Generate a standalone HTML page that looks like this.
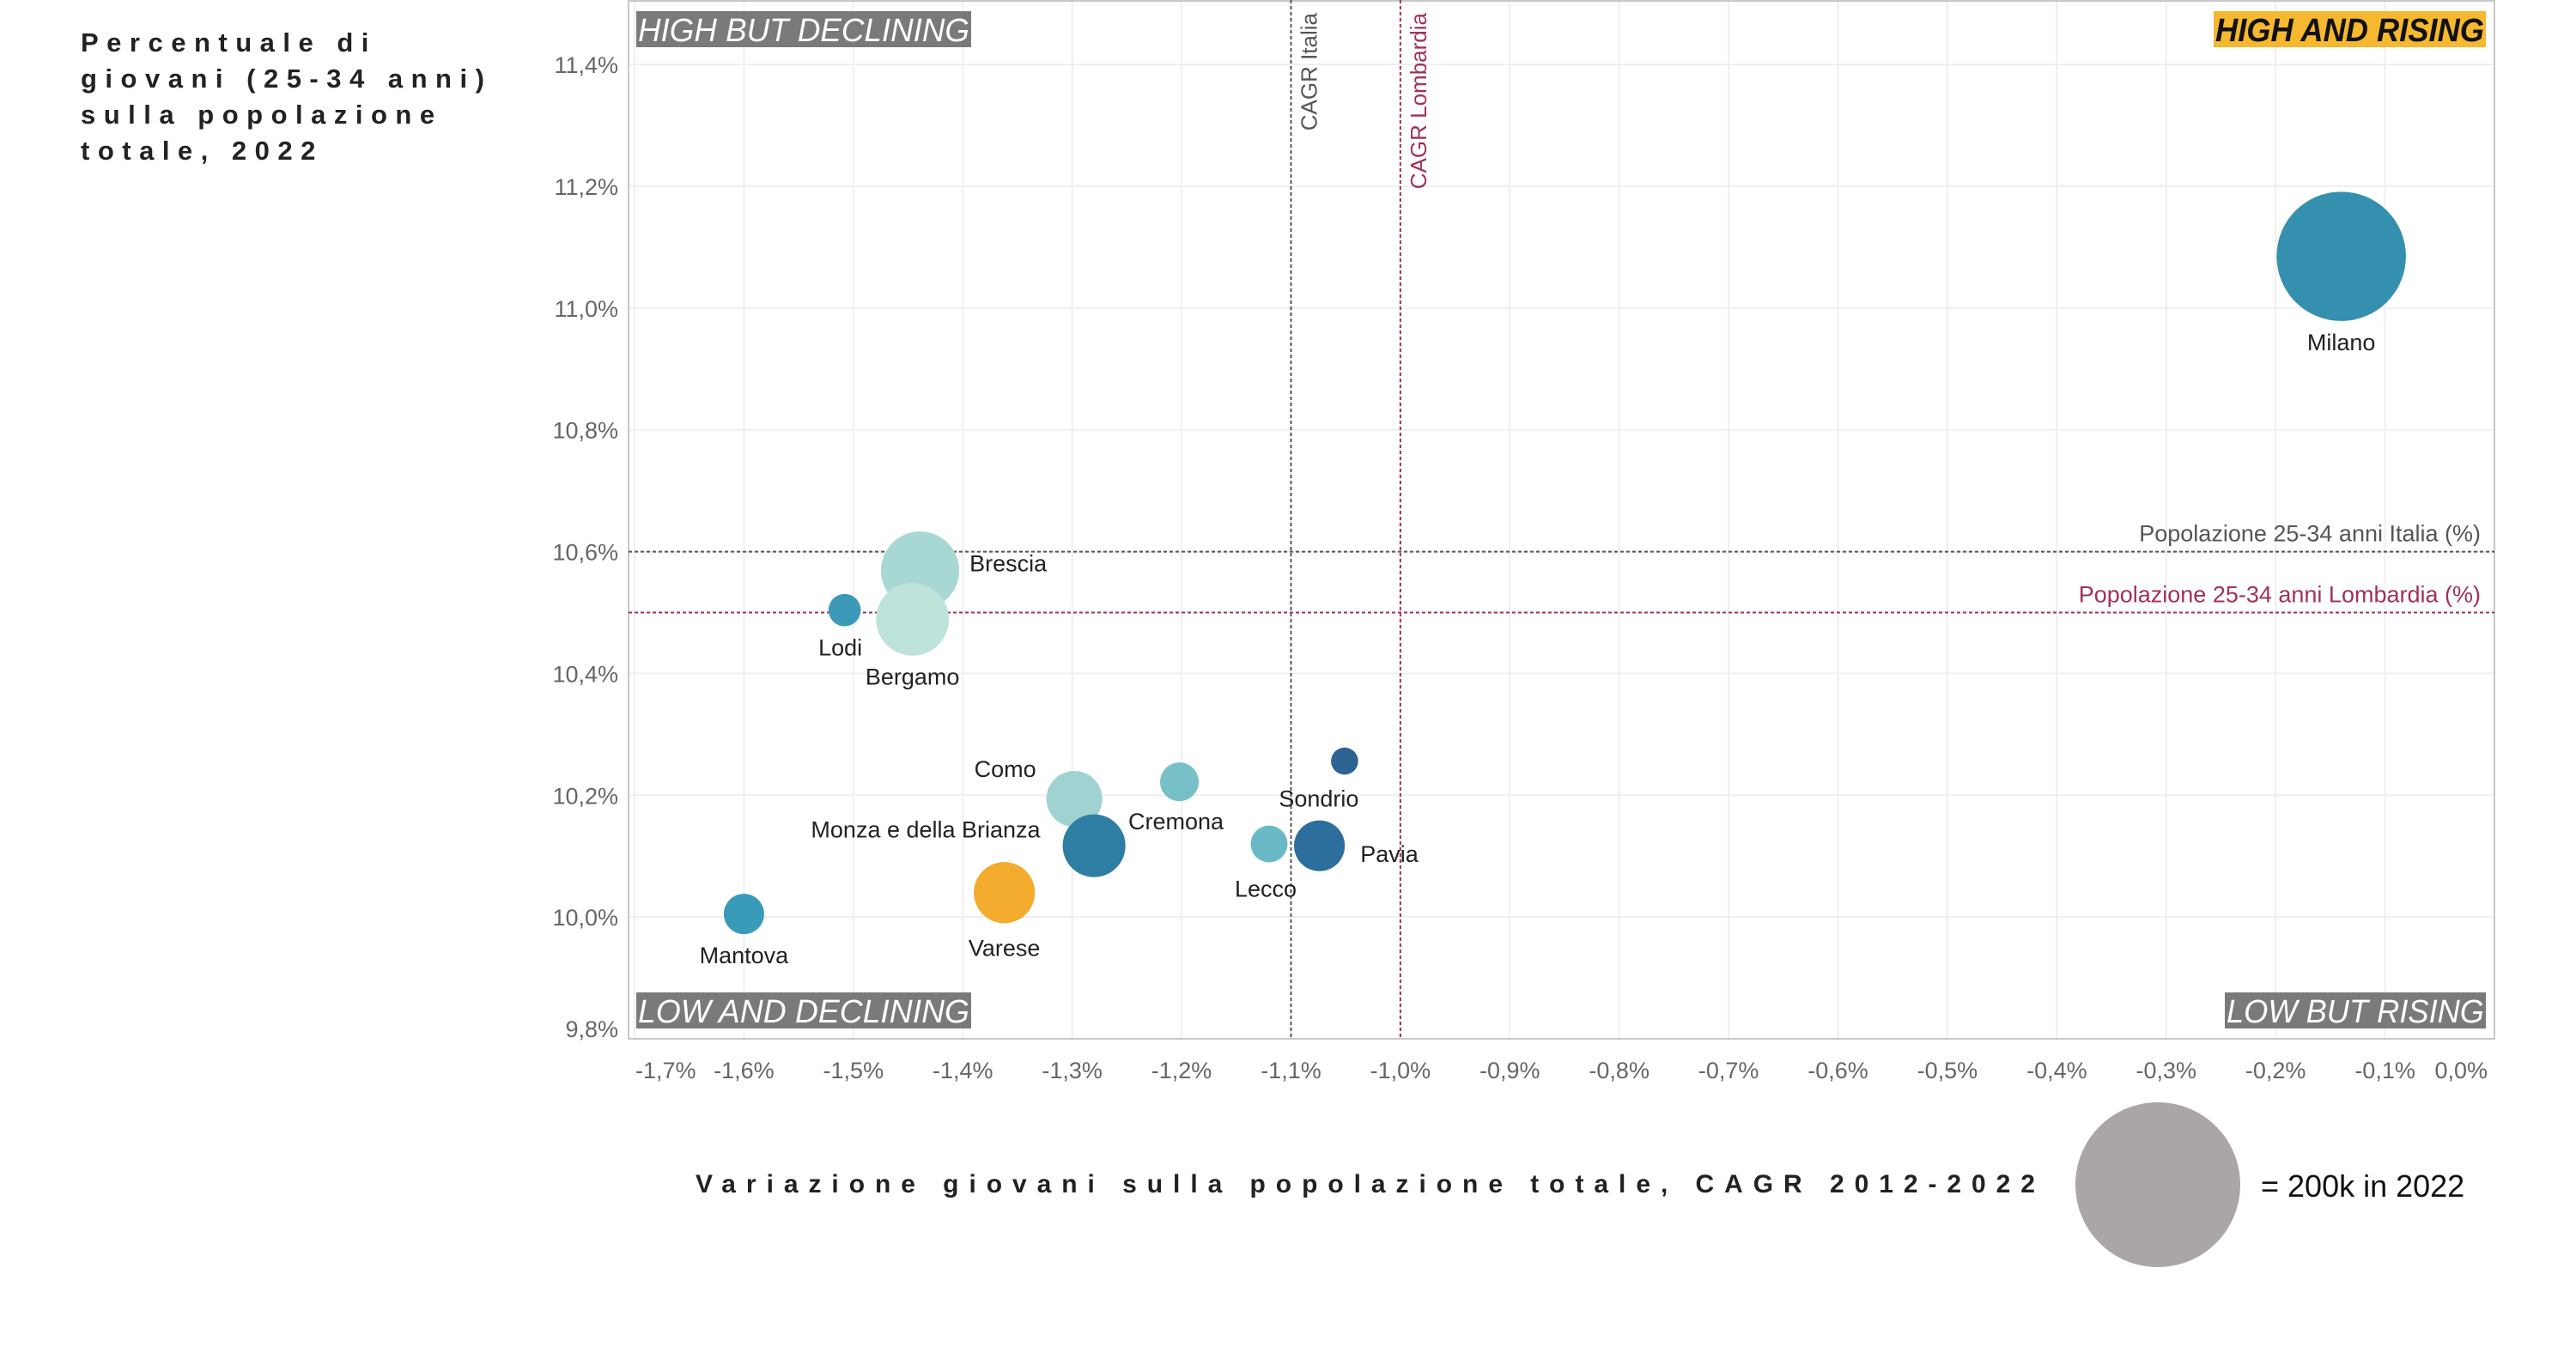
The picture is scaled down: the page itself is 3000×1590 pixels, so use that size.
<!DOCTYPE html>
<html><head><meta charset="utf-8"><style>
html,body{margin:0;padding:0;background:#fff;width:3000px;height:1590px;overflow:hidden}
svg{display:block}
</style></head><body>
<svg id="chart" width="3000" height="1590" xmlns="http://www.w3.org/2000/svg" font-family="Liberation Sans, sans-serif"></svg>
<script>
const provinces=["Milano","Brescia","Bergamo","Lodi","Como","Cremona","Monza e della Brianza","Varese","Mantova","Lecco","Pavia","Sondrio"];
const cagr=[-0.140,-1.439,-1.446,-1.508,-1.298,-1.202,-1.280,-1.362,-1.600,-1.120,-1.074,-1.051];
const share=[11.085,10.569,10.489,10.504,10.194,10.222,10.117,10.040,10.005,10.120,10.117,10.256];
const youngK=[123,45,39,7.7,23,11,29,27.5,12,10,19,5.4];
const colors=["#358fae","#a8d8d3","#bde3da","#3c9ab8","#a0d2d2","#78c0c8","#2e7ea3","#f3ac2e","#3a9bb9","#6bb9c6","#2d6f9c","#2d6393"];
const xTicks=[-1.7,-1.6,-1.5,-1.4,-1.3,-1.2,-1.1,-1.0,-0.9,-0.8,-0.7,-0.6,-0.5,-0.4,-0.3,-0.2,-0.1,0.0];
const yTicks=[9.8,10.0,10.2,10.4,10.6,10.8,11.0,11.2,11.4];
const refX=[-1.1,-1.0];
const refY=[10.6,10.5];
const legendK=200;

const L=732,R=2905,T=0,B=1210;
const x0=-1.7055,x1=0.0,y0=9.8,y1=11.506;
const X=v=>L+(v-x0)/(x1-x0)*(R-L);
const Y=v=>B-(v-y0)/(y1-y0)*(B-T);
const RAD=k=>96*Math.sqrt(k/legendK);
const svg=document.getElementById('chart');
const NS="http://www.w3.org/2000/svg";
function mk(tag,attrs,parent){const e=document.createElementNS(NS,tag);for(const k in attrs)e.setAttribute(k,attrs[k]);(parent||svg).appendChild(e);return e;}
function txt(s,attrs){const e=mk('text',attrs);e.textContent=s;return e;}

xTicks.forEach(t=>{const g=mk('line',{x1:X(t),x2:X(t),y1:T,y2:B,stroke:'#efefef','stroke-width':2});

});
yTicks.forEach(t=>{const g=mk('line',{x1:L,x2:R,y1:Y(t),y2:Y(t),stroke:'#efefef','stroke-width':2});

});
const fr=mk('rect',{x:L,y:1,width:R-L,height:B-1,fill:'none',stroke:'#c8c8c8','stroke-width':2});



xTicks.forEach((t,i)=>{let xx=X(t),anchor='middle';
if(i===0){xx=L+8;anchor='start';}
if(i===xTicks.length-1){xx=R-8;anchor='end';}
const e=txt((t===0?'0,0':t.toFixed(1).replace('.',','))+'%',{x:xx,y:1256,'text-anchor':anchor,'font-size':27,fill:'#666'});

});
yTicks.forEach(t=>{const yy=Math.min(Y(t),1198);const e=txt(t.toFixed(1).replace('.',',')+'%',{x:720,y:yy+10,'text-anchor':'end','font-size':27,fill:'#666'});

});

const refColors=['#555','#a0305e'];
refX.forEach((v,i)=>{const l=mk('line',{x1:X(v),x2:X(v),y1:T,y2:B,stroke:refColors[i],'stroke-width':2,'stroke-dasharray':'4,3'});


const e=txt(i?'CAGR Lombardia':'CAGR Italia',{x:0,y:0,'text-anchor':'end','font-size':26,fill:refColors[i],transform:`translate(${X(v)+30},15) rotate(-90)`});

});
refY.forEach((v,i)=>{const l=mk('line',{x1:L,x2:R,y1:Y(v),y2:Y(v),stroke:refColors[i],'stroke-width':2,'stroke-dasharray':'4,3'});


const e=txt(i?'Popolazione 25-34 anni Lombardia (%)':'Popolazione 25-34 anni Italia (%)',{x:2889,y:Y(v)-12,'text-anchor':'end','font-size':27,fill:refColors[i]});

});

const quads=[["HIGH BUT DECLINING",741,13,390,'#7a7a7a','#fff'],["HIGH AND RISING",2578,13,317,'#f5b82e','#111'],["LOW AND DECLINING",741,1156,390,'#7a7a7a','#fff'],["LOW BUT RISING",2591,1156,304,'#7a7a7a','#fff']];
quads.forEach(q=>{const r=mk('rect',{x:q[1],y:q[2],width:q[3],height:42,fill:q[4]});


const e=txt(q[0],{x:q[1]+2,y:q[2]+35,'font-size':38,'font-style':'italic','font-family':'Liberation Sans Narrow, Liberation Sans, sans-serif','font-weight':q[5]==='#111'?'bold':'normal',fill:q[5],textLength:q[3]-4,lengthAdjust:'spacingAndGlyphs'});

});

const labelPos=[[0,1,'middle'],[1,0,'start'],[0,1,'middle'],[0,1,'middle'],[-1,-1,'end'],[0,1,'middle'],[-1,-0.2,'end'],[0,1,'middle'],[0,1,'middle'],[0,1,'middle'],[1,0,'start'],[0,1,'middle']];
const extra=[[0,22],[2,-8],[0,22],[-5,22],[-2,19],[-4,21],[-16,0],[0,26],[0,22],[-4,28],[8,10],[-30,25]];
provinces.forEach((p,i)=>{const cx=X(cagr[i]),cy=Y(share[i]),r=RAD(youngK[i]);
const c=mk('circle',{cx:cx,cy:cy,r:r,fill:colors[i]});


const lp=labelPos[i];
const tx=cx+lp[0]*(r+10)+extra[i][0], ty=cy+lp[1]*(r+12)+extra[i][1]+(lp[1]===0?9:0);
const e=txt(p,{x:tx,y:ty,'text-anchor':lp[2],'font-size':27,fill:'#222'});

});

const yt=["Percentuale di","giovani (25-34 anni)","sulla popolazione","totale, 2022"];
yt.forEach((s,i)=>{const e=txt(s,{x:94,y:60+i*42,'font-size':31,'font-weight':'bold',fill:'#222','letter-spacing':'9.5'});

});
const xt=txt('Variazione giovani sulla popolazione totale, CAGR 2012-2022',{x:810,y:1389,'font-size':30,'font-weight':'bold',fill:'#222',textLength:1560,lengthAdjust:'spacing'});



const lc=mk('circle',{cx:2513,cy:1380,r:RAD(legendK),fill:'#aaa6a5'});


const lt=txt('= 200k in 2022',{x:2633,y:1394,'font-size':36,fill:'#111'});


</script>
</body></html>
